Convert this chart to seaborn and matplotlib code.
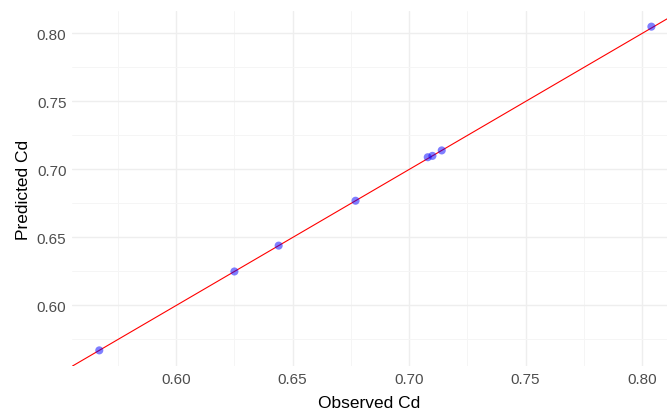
import numpy as np
import matplotlib
matplotlib.use('Agg')
import matplotlib.pyplot as plt
import seaborn as sns
import pandas as pd
from matplotlib.ticker import MultipleLocator

# observed vs predicted discharge coefficient
observed = [0.567, 0.625, 0.644, 0.677, 0.708, 0.710, 0.714, 0.804]
predicted = [0.567, 0.625, 0.644, 0.677, 0.709, 0.710, 0.714, 0.805]
df = pd.DataFrame({'Observed Cd': observed, 'Predicted Cd': predicted})

sns.set_theme(style='whitegrid')
plt.rcParams['font.family'] = ['Liberation Sans', 'DejaVu Sans']

fig = plt.figure(figsize=(6.67, 4.14), dpi=100)
ax = fig.add_axes([0.108, 0.1135, 0.892, 0.8575])

sns.scatterplot(data=df, x='Observed Cd', y='Predicted Cd', ax=ax,
                color='blue', alpha=0.5, s=34, edgecolor='none', zorder=3)
ax.axline((0.6, 0.6), slope=1, color='red', lw=0.8, zorder=2)

ax.set_xlim(0.5553, 0.8107)
ax.set_ylim(0.5555, 0.8165)
ax.xaxis.set_major_locator(MultipleLocator(0.05))
ax.yaxis.set_major_locator(MultipleLocator(0.05))
ax.xaxis.set_minor_locator(MultipleLocator(0.025))
ax.yaxis.set_minor_locator(MultipleLocator(0.025))
ax.grid(which='major', color='#EEEEEE', lw=1.0)
ax.grid(which='minor', color='#F5F5F5', lw=0.7)
ax.set_axisbelow(True)
for s in ax.spines.values():
    s.set_visible(False)
ax.set_facecolor('white')
ax.tick_params(axis='both', which='both', length=0, labelsize=11, colors='#4D4D4D', pad=4)
ax.xaxis.set_major_formatter(matplotlib.ticker.FormatStrFormatter('%.2f'))
ax.yaxis.set_major_formatter(matplotlib.ticker.FormatStrFormatter('%.2f'))
ax.set_xlabel('Observed Cd', fontsize=12.5, color='black', labelpad=7)
ax.set_ylabel('Predicted Cd', fontsize=12.5, color='black', labelpad=4)

fig.savefig('out.png', dpi=100, facecolor='white')
